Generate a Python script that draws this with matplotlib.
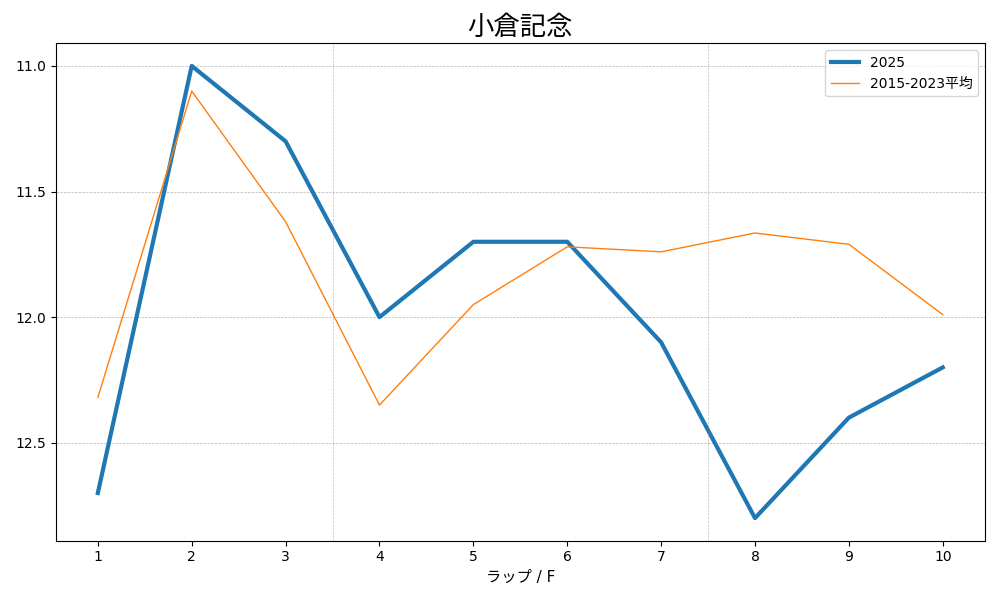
import matplotlib
matplotlib.use('Agg')
from matplotlib import pyplot as plt
from matplotlib.ticker import MultipleLocator

plt.rcParams['font.family'] = ['DejaVu Sans', 'Noto Sans CJK JP']

laps = [1, 2, 3, 4, 5, 6, 7, 8, 9, 10]
lap_2025 = [12.7, 11.0, 11.3, 12.0, 11.7, 11.7, 12.1, 12.8, 12.4, 12.2]
lap_avg = [12.32, 11.1, 11.62, 12.35, 11.95, 11.72, 11.74, 11.665, 11.71, 11.99]
section_marks = [3.5, 7.5]

fig, ax = plt.subplots(figsize=(10, 6), dpi=100)
ax.plot(laps, lap_2025, linewidth=3, color='#1f77b4', label='2025')
ax.plot(laps, lap_avg, linewidth=1, color='#ff7f0e', label='2015-2023平均')

for xv in section_marks:
    ax.axvline(xv, color='gray', linestyle='--', linewidth=0.5, alpha=0.5)

ax.invert_yaxis()
ax.set_xticks(laps)
ax.yaxis.set_major_locator(MultipleLocator(0.5))
ax.grid(axis='y', linestyle='--', linewidth=0.5, color='gray', alpha=0.6)
ax.set_title('小倉記念', fontsize=19)
ax.set_xlabel('ラップ / F', fontsize=11)
ax.legend(loc='upper right')

plt.tight_layout()
plt.savefig('out.png')
